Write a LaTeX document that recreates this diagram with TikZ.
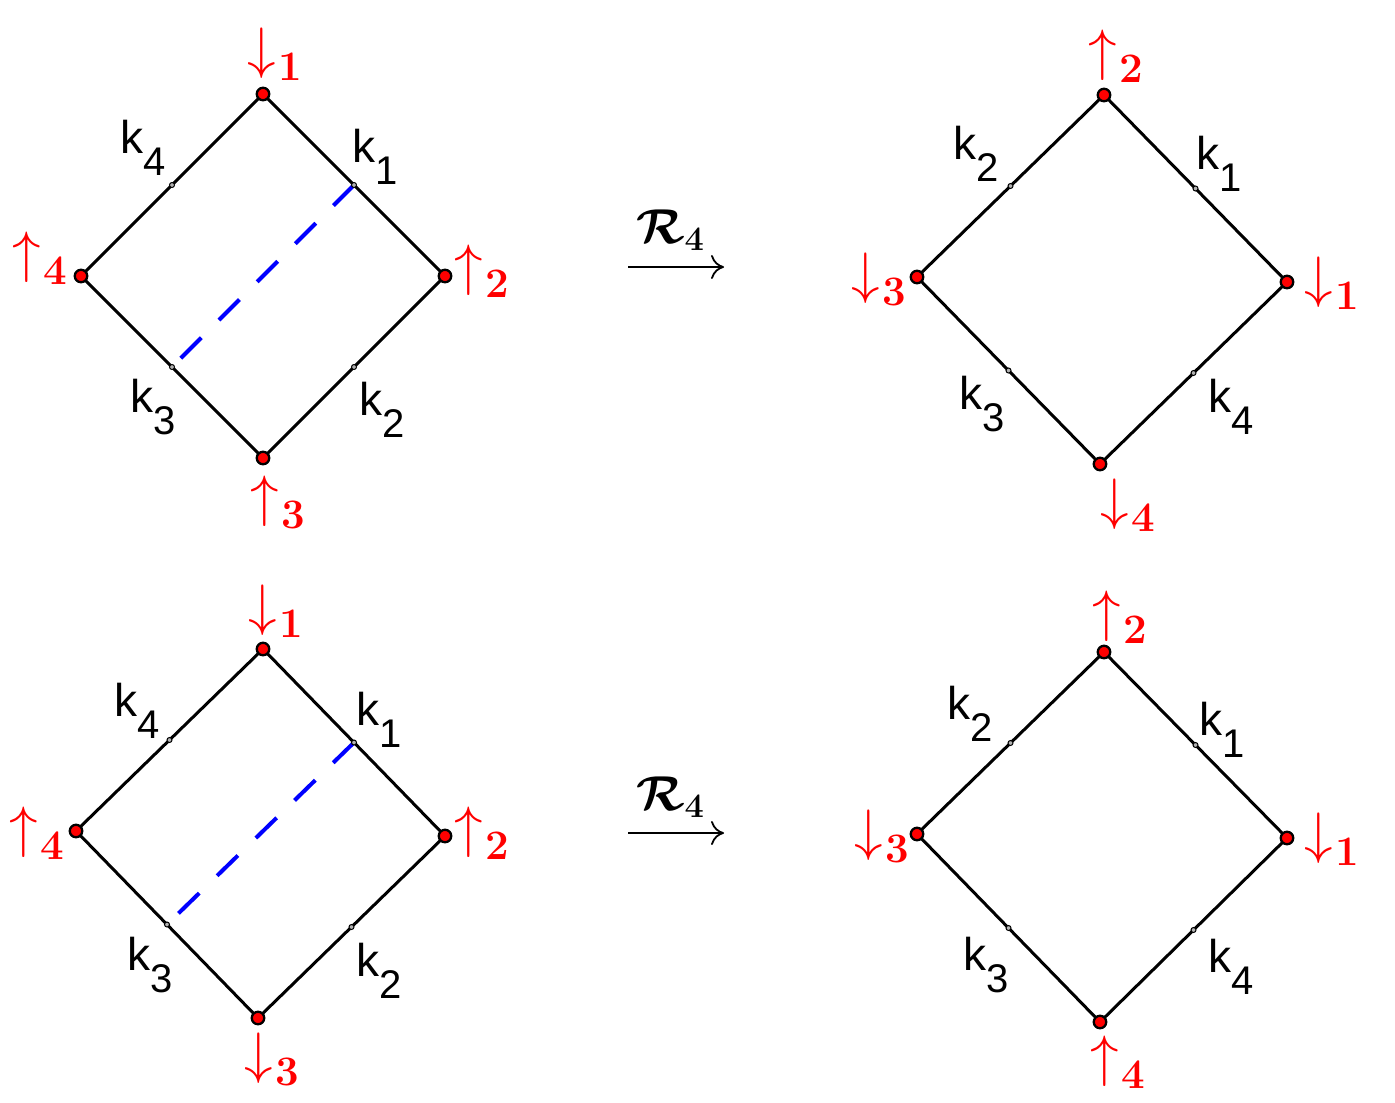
\RequirePackage{fix-cm}
\documentclass[tikz,border=0pt]{standalone}
\usepackage{amsmath}
\usepackage{fontspec}
\newfontfamily\kfont{Liberation Sans}
\usetikzlibrary{arrows.meta,calc}
\newcommand\kl[1]{k\raisebox{-22pt}{\fontsize{40}{40}\selectfont #1}}
\newcommand\spinup[1]{{\fontsize{57}{57}\selectfont$\uparrow$}\hspace{2.5pt}\raisebox{-13pt}{\fontsize{42}{42}\selectfont\bfseries #1}}
\newcommand\spindn[1]{{\fontsize{57}{57}\selectfont$\downarrow$}\hspace{2.5pt}\raisebox{-13pt}{\fontsize{42}{42}\selectfont\bfseries #1}}
\tikzset{
  edge/.style={line width=3pt, black, line join=round},
  vtx/.style={circle, fill=red, draw=black, line width=2.3pt, minimum size=12.5pt, inner sep=0pt},
  midpt/.style={circle, draw=black, fill=gray!60, line width=1pt, minimum size=5pt, inner sep=0pt},
  cut/.style={blue, line width=4pt, dash pattern=on 29pt off 25pt},
  klab/.style={anchor=base west, inner sep=0pt, font=\kfont\fontsize{46}{46}\selectfont},
  spin/.style={anchor=base west, inner sep=0pt, text=red},
  rlab/.style={anchor=base west, inner sep=0pt, font=\fontsize{49}{49}\selectfont},
  maparrow/.style={line width=1.8pt, -{Computer Modern Rightarrow[length=13pt,width=24pt]}},
}
\begin{document}
\begin{tikzpicture}[x=1pt,y=-1pt]
\useasboundingbox (0,0) rectangle (1395,1103);
% ---------- top left ----------
\coordinate (A1) at (263,94);
\coordinate (A2) at (445,276);
\coordinate (A3) at (263,458);
\coordinate (A4) at (81,276);
\draw[edge] (A1) -- (A2) -- (A3) -- (A4) -- cycle;
\draw[cut] ($(A1)!0.5!(A2)$) -- ($(A3)!0.5!(A4)$);
\node[midpt] (mA12) at ($(A1)!0.5!(A2)$) {};
\node[midpt] (mA23) at ($(A2)!0.5!(A3)$) {};
\node[midpt] (mA34) at ($(A3)!0.5!(A4)$) {};
\node[midpt] (mA41) at ($(A4)!0.5!(A1)$) {};
\node[vtx] (vA1) at (A1) {};
\node[vtx] (vA2) at (A2) {};
\node[vtx] (vA3) at (A3) {};
\node[vtx] (vA4) at (A4) {};
\node[klab] (kA4) at (120,153) {\kl{4}};
\node[klab] (kA1) at (352,162) {\kl{1}};
\node[klab] (kA3) at (130,412) {\kl{3}};
\node[klab] (kA2) at (359,415) {\kl{2}};
\node[spin] (sA1) at (247,67) {\spindn{1}};
\node[spin] (sA2) at (454,284) {\spinup{2}};
\node[spin] (sA3) at (250,515) {\spinup{3}};
\node[spin] (sA4) at (12,271) {\spinup{4}};
% ---------- top right ----------
\coordinate (B1) at (1104,95);
\coordinate (B2) at (1287,282);
\coordinate (B3) at (1100,464);
\coordinate (B4) at (917,277);
\draw[edge] (B1) -- (B2) -- (B3) -- (B4) -- cycle;
\node[midpt] (mB12) at ($(B1)!0.5!(B2)$) {};
\node[midpt] (mB23) at ($(B2)!0.5!(B3)$) {};
\node[midpt] (mB34) at ($(B3)!0.5!(B4)$) {};
\node[midpt] (mB41) at ($(B4)!0.5!(B1)$) {};
\node[vtx] (vB1) at (B1) {};
\node[vtx] (vB2) at (B2) {};
\node[vtx] (vB3) at (B3) {};
\node[vtx] (vB4) at (B4) {};
\node[klab] (kB2) at (953,159) {\kl{2}};
\node[klab] (kB1) at (1196,169) {\kl{1}};
\node[klab] (kB3) at (959,409) {\kl{3}};
\node[klab] (kB4) at (1208,412) {\kl{4}};
\node[spin] (sB2) at (1088,69) {\spinup{2}};
\node[spin] (sB1) at (1304,296) {\spindn{1}};
\node[spin] (sB3) at (851,292) {\spindn{3}};
\node[spin] (sB4) at (1100,518) {\spindn{4}};
% ---------- bottom left ----------
\coordinate (C1) at (263,649);
\coordinate (C2) at (445,836);
\coordinate (C3) at (258,1018);
\coordinate (C4) at (76,831);
\draw[edge] (C1) -- (C2) -- (C3) -- (C4) -- cycle;
\draw[cut] ($(C1)!0.5!(C2)$) -- ($(C3)!0.5!(C4)$);
\node[midpt] (mC12) at ($(C1)!0.5!(C2)$) {};
\node[midpt] (mC23) at ($(C2)!0.5!(C3)$) {};
\node[midpt] (mC34) at ($(C3)!0.5!(C4)$) {};
\node[midpt] (mC41) at ($(C4)!0.5!(C1)$) {};
\node[vtx] (vC1) at (C1) {};
\node[vtx] (vC2) at (C2) {};
\node[vtx] (vC3) at (C3) {};
\node[vtx] (vC4) at (C4) {};
\node[klab] (kC4) at (114,716) {\kl{4}};
\node[klab] (kC1) at (356,725) {\kl{1}};
\node[klab] (kC3) at (127,970) {\kl{3}};
\node[klab] (kC2) at (356,976) {\kl{2}};
\node[spin] (sC1) at (248,624) {\spindn{1}};
\node[spin] (sC2) at (454,846) {\spinup{2}};
\node[spin] (sC3) at (244,1072) {\spindn{3}};
\node[spin] (sC4) at (9,846) {\spinup{4}};
% ---------- bottom right ----------
\coordinate (D1) at (1104,652);
\coordinate (D2) at (1287,838);
\coordinate (D3) at (1100,1022);
\coordinate (D4) at (917,834);
\draw[edge] (D1) -- (D2) -- (D3) -- (D4) -- cycle;
\node[midpt] (mD12) at ($(D1)!0.5!(D2)$) {};
\node[midpt] (mD23) at ($(D2)!0.5!(D3)$) {};
\node[midpt] (mD34) at ($(D3)!0.5!(D4)$) {};
\node[midpt] (mD41) at ($(D4)!0.5!(D1)$) {};
\node[vtx] (vD1) at (D1) {};
\node[vtx] (vD2) at (D2) {};
\node[vtx] (vD3) at (D3) {};
\node[vtx] (vD4) at (D4) {};
\node[klab] (kD2) at (947,719) {\kl{2}};
\node[klab] (kD1) at (1199,735) {\kl{1}};
\node[klab] (kD3) at (963,970) {\kl{3}};
\node[klab] (kD4) at (1208,972) {\kl{4}};
\node[spin] (sD2) at (1092,630) {\spinup{2}};
\node[spin] (sD1) at (1304,852) {\spindn{1}};
\node[spin] (sD3) at (854,849) {\spindn{3}};
\node[spin] (sD4) at (1090,1075) {\spinup{4}};
% ---------- maps ----------
\coordinate (r1s) at (628,267);
\coordinate (r1e) at (724,267);
\draw[maparrow] (r1s) -- (r1e);
\node[rlab] (R1) at (636,243) {$\boldsymbol{\mathcal{R}_4}$};
\coordinate (r2s) at (628,833);
\coordinate (r2e) at (724,833);
\draw[maparrow] (r2s) -- (r2e);
\node[rlab] (R2) at (636,810) {$\boldsymbol{\mathcal{R}_4}$};
\end{tikzpicture}
\end{document}
